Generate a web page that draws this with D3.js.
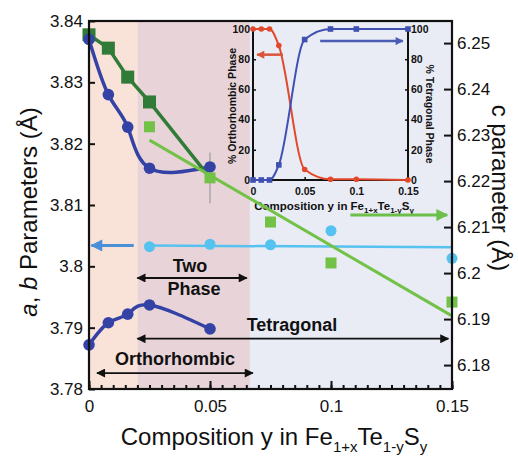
<!DOCTYPE html>
<html lang="en">
<head>
<meta charset="utf-8">
<title>Fe1+xTe1-ySy lattice parameters</title>
<script src="https://d3js.org/d3.v7.min.js"></script>
<style>
  body { margin: 0; background: #fff; }
  svg text { font-family: "Liberation Sans", Arial, Helvetica, sans-serif; fill: #111; }
  .main-axis text { font-size: 17px; }
  .inset-axis text { font-size: 10.5px; font-weight: bold; }
  .note { font-size: 18px; font-weight: bold; }
</style>
</head>
<body>
<div id="chart"></div>
<script>
// orthorhombic side: a and b split, c from the dark green squares
const orthoY = [0, 0.008, 0.016, 0.025, 0.05];
const aOrtho = [3.837, 3.828, 3.8227, 3.816, 3.8162];
const bOrtho = [3.7872, 3.7908, 3.7922, 3.7937, 3.7898];
const cOrthoY = [0, 0.008, 0.016, 0.025];
const cOrtho = [6.2518, 6.2489, 6.2426, 6.2372];
// tetragonal side
const tetraY = [0.025, 0.05, 0.075, 0.1, 0.15];
const aTetra = [3.8032, 3.8036, 3.8035, 3.8058, 3.8013];
const cTetra = [6.2318, 6.2207, 6.2111, 6.2022, 6.1937];
const cErr = [0, 0.0055, 0, 0, 0];
// linear fits through the tetragonal points
const fitY = [0.025, 0.15];
const aFit = [3.8034, 3.8031];
const cFit = [6.2289, 6.1907];
// inset: phase fractions (%)
const phaseY = [0, 0.008, 0.016, 0.025, 0.05, 0.075, 0.1, 0.15];
const orthoPct = [100, 100, 100, 89, 7, 0.5, 0.5, 0];
const tetraPct = [0, 0, 0, 10, 93, 100, 100, 100];
// tick labels
const abTicks = [3.78, 3.79, 3.8, 3.81, 3.82, 3.83, 3.84];
const cTicks = [6.18, 6.19, 6.2, 6.21, 6.22, 6.23, 6.24, 6.25];
const yTicks = [0, 0.05, 0.1, 0.15];
const pctTicks = [0, 20, 40, 60, 80, 100];
// phase regions along y
const regionBounds = [[0, 0.02], [0.02, 0.0665], [0.0665, 0.15]];
const regionColors = ["#f9e2d7", "#e8d4d8", "#e9ebf5"];

const width = 518, height = 460;
const svg = d3.select("#chart").append("svg")
  .attr("width", width).attr("height", height);

const defs = svg.append("defs");
function arrowHead(id, color, len, wid) {
  defs.append("marker")
    .attr("id", id).attr("markerUnits", "userSpaceOnUse")
    .attr("viewBox", "0 0 10 10").attr("refX", 9).attr("refY", 5)
    .attr("markerWidth", len).attr("markerHeight", wid)
    .attr("orient", "auto-start-reverse")
    .append("path").attr("d", "M0,0L10,5L0,10z").attr("fill", color);
}
arrowHead("ahBlack", "#111", 11, 9);
arrowHead("ahLblue", "#4a8fd8", 14, 12);
arrowHead("ahGreen", "#6cc04a", 14, 12);
arrowHead("ahRed", "#d9553a", 10, 8);
arrowHead("ahBlue", "#4a5cb4", 10, 8);

const x = d3.scaleLinear().domain([0, 0.15]).range([89, 452]);
const yA = d3.scaleLinear().domain([3.78, 3.84]).range([389, 21]);
const yC = d3.scaleLinear().domain([6.1748, 6.2548]).range([389, 21]);
const fmt = d => String(+d.toFixed(3));

// background bands
svg.selectAll("rect.band").data(regionBounds).enter().append("rect")
  .attr("class", "band")
  .attr("x", d => x(d[0])).attr("width", d => x(d[1]) - x(d[0]))
  .attr("y", yA(3.84)).attr("height", yA(3.78) - yA(3.84))
  .attr("fill", (d, i) => regionColors[i]);

// ---------- inset ----------
const xi = d3.scaleLinear().domain([0, 0.15]).range([253, 408]);
const yi = d3.scaleLinear().domain([0, 100]).range([180, 29]);
const inset = svg.append("g");

inset.append("g").attr("class", "inset-axis")
  .attr("transform", "translate(" + xi(0) + ",0)")
  .call(d3.axisLeft(yi).tickValues(pctTicks).tickSize(-3).tickPadding(3))
  .call(g => g.select(".domain").remove());
inset.append("g").attr("class", "inset-axis")
  .attr("transform", "translate(" + xi(0.15) + ",0)")
  .call(d3.axisRight(yi).tickValues(pctTicks).tickSize(-3).tickPadding(3))
  .call(g => g.select(".domain").remove());
inset.append("g").attr("class", "inset-axis")
  .attr("transform", "translate(0," + yi(0) + ")")
  .call(d3.axisBottom(xi).tickValues(yTicks).tickSize(-3).tickPadding(8).tickFormat(fmt))
  .call(g => g.select(".domain").remove());
inset.selectAll(".tick line").attr("stroke", "#111").attr("stroke-width", 1.5);
inset.append("path")
  .attr("d", "M" + xi(0) + "," + (yi(100) - 1) + "V" + yi(0) + "H" + xi(0.15) + "V" + (yi(100) - 1))
  .attr("fill", "none").attr("stroke", "#111").attr("stroke-width", 2);

const insetLine = d3.line().curve(d3.curveMonotoneX);
inset.append("path")
  .attr("d", insetLine(phaseY.map((v, i) => [xi(v), yi(orthoPct[i])])))
  .attr("fill", "none").attr("stroke", "#e2492b").attr("stroke-width", 2);
inset.append("path")
  .attr("d", insetLine(phaseY.map((v, i) => [xi(v), yi(tetraPct[i])])))
  .attr("fill", "none").attr("stroke", "#3f51b0").attr("stroke-width", 2);
inset.selectAll("circle.op").data(phaseY).enter().append("circle")
  .attr("cx", d => xi(d)).attr("cy", (d, i) => yi(orthoPct[i])).attr("r", 2.8)
  .attr("fill", "#e2492b");
inset.selectAll("rect.tp").data(phaseY).enter().append("rect")
  .attr("x", d => xi(d) - 2.8).attr("y", (d, i) => yi(tetraPct[i]) - 2.8)
  .attr("width", 5.6).attr("height", 5.6).attr("fill", "#3f51b0");

inset.append("line")
  .attr("x1", xi(0.029)).attr("x2", xi(0.004)).attr("y1", yi(83)).attr("y2", yi(83))
  .attr("stroke", "#d9553a").attr("stroke-width", 2.5).attr("marker-end", "url(#ahRed)");
inset.append("line")
  .attr("x1", xi(0.065)).attr("x2", xi(0.145)).attr("y1", yi(92)).attr("y2", yi(92))
  .attr("stroke", "#4a5cb4").attr("stroke-width", 2.5).attr("marker-end", "url(#ahBlue)");

inset.append("text")
  .attr("transform", "translate(236,106) rotate(-90)")
  .attr("text-anchor", "middle").attr("font-size", 10.5).attr("font-weight", "bold")
  .text("% Orthorhombic Phase");
inset.append("text")
  .attr("transform", "translate(426,114) rotate(90)")
  .attr("text-anchor", "middle").attr("font-size", 10.5).attr("font-weight", "bold")
  .text("% Tetragonal Phase");
const it = inset.append("text")
  .attr("x", 334).attr("y", 210).attr("text-anchor", "middle")
  .attr("font-size", 11.5).attr("font-weight", "bold");
it.append("tspan").text("Composition y in Fe");
it.append("tspan").attr("font-size", 8).attr("dy", 3).text("1+x");
it.append("tspan").attr("dy", -3).text("Te");
it.append("tspan").attr("font-size", 8).attr("dy", 3).text("1-y");
it.append("tspan").attr("dy", -3).text("S");
it.append("tspan").attr("font-size", 8).attr("dy", 3).text("y");

// ---------- main data ----------
const lineAB = d3.line().curve(d3.curveNatural);
svg.append("path")
  .attr("d", lineAB(orthoY.map((v, i) => [x(v), yA(aOrtho[i])])))
  .attr("fill", "none").attr("stroke", "#3442a6").attr("stroke-width", 3.5);
svg.append("path")
  .attr("d", lineAB(orthoY.map((v, i) => [x(v), yA(bOrtho[i])])))
  .attr("fill", "none").attr("stroke", "#3442a6").attr("stroke-width", 3.5);

// dark green c line continues to the first two-phase point at y = 0.05
const darkPts = cOrthoY.map((v, i) => [x(v), yC(cOrtho[i])]).concat([[x(tetraY[1]), yC(cTetra[1])]]);
svg.append("path").attr("d", d3.line()(darkPts))
  .attr("fill", "none").attr("stroke", "#2f7b37").attr("stroke-width", 3.5);

// fits
svg.append("path").attr("d", d3.line()(fitY.map((v, i) => [x(v), yA(aFit[i])])))
  .attr("stroke", "#56c2ef").attr("stroke-width", 2.5);
svg.append("path").attr("d", d3.line()(fitY.map((v, i) => [x(v), yC(cFit[i])])))
  .attr("stroke", "#72c247").attr("stroke-width", 3);

// error bar
svg.selectAll("line.err").data(tetraY.filter((d, i) => cErr[i] > 0)).enter().append("line")
  .attr("x1", d => x(d)).attr("x2", d => x(d))
  .attr("y1", d => yC(cTetra[tetraY.indexOf(d)] + cErr[tetraY.indexOf(d)]))
  .attr("y2", d => yC(cTetra[tetraY.indexOf(d)] - cErr[tetraY.indexOf(d)]))
  .attr("stroke", "#9a9a9a").attr("stroke-width", 1.2);

svg.selectAll("rect.cOrtho").data(cOrthoY).enter().append("rect")
  .attr("x", d => x(d) - 6.5).attr("y", (d, i) => yC(cOrtho[i]) - 6.5)
  .attr("width", 13).attr("height", 13).attr("fill", "#2f7b37");
svg.selectAll("circle.aOrtho").data(orthoY).enter().append("circle")
  .attr("cx", d => x(d)).attr("cy", (d, i) => yA(aOrtho[i])).attr("r", 5.8)
  .attr("fill", "#3442a6");
svg.selectAll("circle.bOrtho").data(orthoY).enter().append("circle")
  .attr("cx", d => x(d)).attr("cy", (d, i) => yA(bOrtho[i])).attr("r", 5.8)
  .attr("fill", "#3442a6");
svg.selectAll("circle.aTetra").data(tetraY).enter().append("circle")
  .attr("cx", d => x(d)).attr("cy", (d, i) => yA(aTetra[i])).attr("r", 5.5)
  .attr("fill", "#56c2ef");
svg.selectAll("rect.cTetra").data(tetraY).enter().append("rect")
  .attr("x", d => x(d) - 5.5).attr("y", (d, i) => yC(cTetra[i]) - 5.5)
  .attr("width", 11).attr("height", 11).attr("fill", "#72c247");

// axis arrows
svg.append("line")
  .attr("x1", x(0.0185)).attr("x2", x(0.001)).attr("y1", yA(3.8034)).attr("y2", yA(3.8034))
  .attr("stroke", "#4a8fd8").attr("stroke-width", 3).attr("marker-end", "url(#ahLblue)");
svg.append("line")
  .attr("x1", x(0.108)).attr("x2", x(0.148)).attr("y1", yC(6.2126)).attr("y2", yC(6.2126))
  .attr("stroke", "#6cc04a").attr("stroke-width", 3).attr("marker-end", "url(#ahGreen)");

// phase range annotations
const notes = [
  { from: 0.02, to: 0.0652, at: 3.7981 },
  { from: 0.02, to: 0.1485, at: 3.7882 },
  { from: 0.0033, to: 0.0677, at: 3.7826 }
];
svg.selectAll("line.note").data(notes).enter().append("line")
  .attr("x1", d => x(d.from)).attr("x2", d => x(d.to))
  .attr("y1", d => yA(d.at)).attr("y2", d => yA(d.at))
  .attr("stroke", "#111").attr("stroke-width", 1.8)
  .attr("marker-start", "url(#ahBlack)").attr("marker-end", "url(#ahBlack)");
svg.append("text").attr("class", "note").attr("x", 190).attr("y", 272).attr("text-anchor", "middle").text("Two");
svg.append("text").attr("class", "note").attr("x", 194).attr("y", 295).attr("text-anchor", "middle").text("Phase");
svg.append("text").attr("class", "note").attr("x", 292).attr("y", 331).attr("text-anchor", "middle").text("Tetragonal");
svg.append("text").attr("class", "note").attr("x", 175).attr("y", 365).attr("text-anchor", "middle").text("Orthorhombic");

// ---------- main axes ----------
svg.append("g").attr("class", "main-axis")
  .attr("transform", "translate(" + x(0) + ",0)")
  .call(d3.axisLeft(yA).tickValues(abTicks).tickSize(-6).tickPadding(6).tickFormat(fmt))
  .call(g => g.select(".domain").remove());
svg.append("g").attr("class", "main-axis")
  .attr("transform", "translate(" + x(0.15) + ",0)")
  .call(d3.axisRight(yC).tickValues(cTicks).tickSize(-8).tickPadding(5).tickFormat(fmt))
  .call(g => g.select(".domain").remove());
svg.append("g").attr("class", "main-axis")
  .attr("transform", "translate(0," + yA(3.78) + ")")
  .call(d3.axisBottom(x).tickValues(d3.range(0, 0.1501, 0.005)).tickSize(-4).tickFormat(""))
  .call(g => g.select(".domain").remove());
svg.append("g").attr("class", "main-axis")
  .attr("transform", "translate(0," + yA(3.78) + ")")
  .call(d3.axisBottom(x).tickValues(yTicks).tickSize(-8).tickPadding(11).tickFormat(fmt))
  .call(g => g.select(".domain").remove());
svg.selectAll(".main-axis .tick line").attr("stroke", "#111").attr("stroke-width", 2);

svg.append("rect")
  .attr("x", x(0)).attr("y", yA(3.84))
  .attr("width", x(0.15) - x(0)).attr("height", yA(3.78) - yA(3.84))
  .attr("fill", "none").attr("stroke", "#111").attr("stroke-width", 2.2);

// axis titles
const lt = svg.append("text")
  .attr("transform", "translate(37,212) rotate(-90)")
  .attr("text-anchor", "middle").attr("font-size", 24);
lt.append("tspan").attr("font-style", "italic").text("a");
lt.append("tspan").text(", ");
lt.append("tspan").attr("font-style", "italic").text("b");
lt.append("tspan").text(" Parameters (Å)");

svg.append("text")
  .attr("transform", "translate(492,188) rotate(90)")
  .attr("text-anchor", "middle").attr("font-size", 24)
  .text("c parameter (Å)");

const bt = svg.append("text")
  .attr("x", 274).attr("y", 445).attr("text-anchor", "middle").attr("font-size", 24);
bt.append("tspan").text("Composition y in Fe");
bt.append("tspan").attr("font-size", 15).attr("dy", 7).text("1+x");
bt.append("tspan").attr("dy", -7).text("Te");
bt.append("tspan").attr("font-size", 15).attr("dy", 7).text("1-y");
bt.append("tspan").attr("dy", -7).text("S");
bt.append("tspan").attr("font-size", 15).attr("dy", 7).text("y");
</script>
</body>
</html>
